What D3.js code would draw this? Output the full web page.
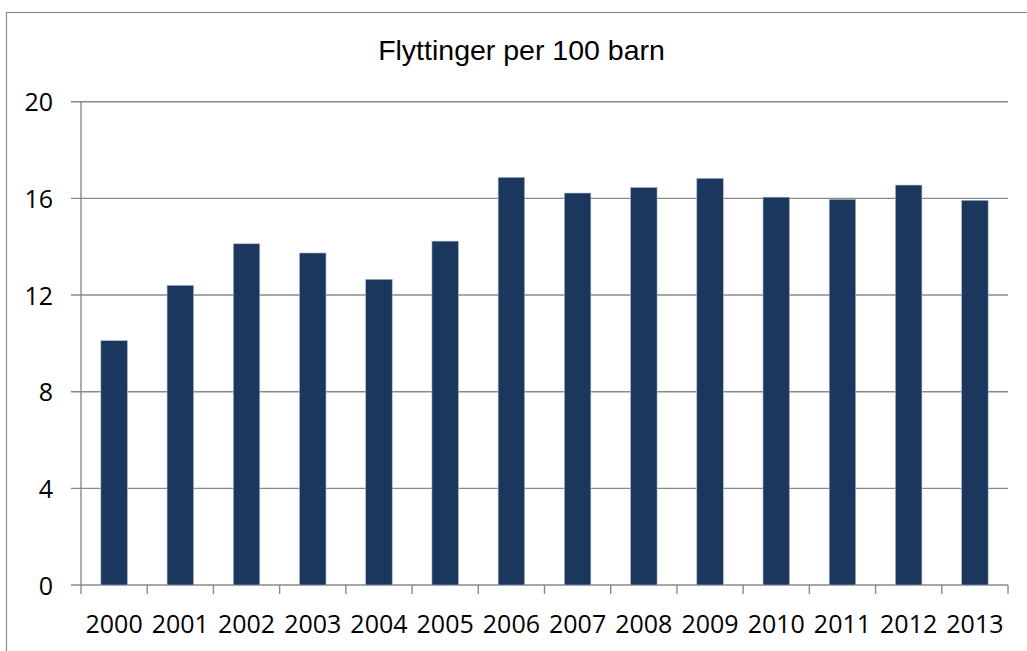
<!DOCTYPE html>
<html><head><meta charset="utf-8">
<script src="https://cdn.jsdelivr.net/npm/d3@7"></script>
<style>body{margin:0;background:#fff}svg{display:block}</style>
</head><body>
<svg id="c" width="1027" height="651"></svg>
<script>
const title = "Flyttinger per 100 barn";
const years = ["2000","2001","2002","2003","2004","2005","2006","2007","2008","2009","2010","2011","2012","2013"];
const values = [10.11,12.40,14.12,13.74,12.65,14.23,16.87,16.22,16.45,16.83,16.05,15.96,16.55,15.92];
const yTicks = [0,4,8,12,16,20];

const svg = d3.select("#c");
const font = "'Open Sans', 'Noto Sans', sans-serif";
const tfont = "'Liberation Sans', Arial, sans-serif";
svg.append("rect").attr("x",6.5).attr("y",12.5).attr("width",1030).attr("height",660)
  .attr("fill","#fff").attr("stroke","#8a8a8a").attr("stroke-width",1.2);

const L=81, R=1008, T=101.7, B=585;
const x = d3.scaleBand().domain(years).range([L,R]).paddingInner(0.6).paddingOuter(0.3);
const y = d3.scaleLinear().domain([0,20]).range([B,T]);

// gridlines
svg.append("g").selectAll("line").data(yTicks).join("line")
  .attr("x1",71).attr("x2",R).attr("y1",d=>y(d)).attr("y2",d=>y(d))
  .attr("stroke","#8a8a8a").attr("stroke-width",1.4);
// y axis line
svg.append("line").attr("x1",L).attr("x2",L).attr("y1",T).attr("y2",B)
  .attr("stroke","#8a8a8a").attr("stroke-width",1.4);
// category ticks
const xb = d3.scaleBand().domain(years).range([L,R]);
const tickPos = years.map(d=>xb(d)).concat([R]);
svg.append("g").selectAll("line").data(tickPos).join("line")
  .attr("x1",d=>d).attr("x2",d=>d).attr("y1",B).attr("y2",594)
  .attr("stroke","#8a8a8a").attr("stroke-width",1.4);

// bars
svg.append("g").selectAll("rect").data(values).join("rect")
  .attr("x",(d,i)=>x(years[i])).attr("width",x.bandwidth())
  .attr("y",d=>y(d)).attr("height",d=>B-y(d))
  .attr("fill","#1b375e").attr("stroke","#a9b8cc").attr("stroke-width",0.6);

// y labels
svg.append("g").selectAll("text").data(yTicks).join("text")
  .attr("x",53).attr("y",d=>y(d)+9.5).attr("text-anchor","end")
  .attr("font-family",font).attr("font-size",25).attr("fill","#000").text(d=>d);
// x labels
svg.append("g").selectAll("text").data(years).join("text")
  .attr("x",d=>xb(d)+xb.bandwidth()/2).attr("y",633.3).attr("text-anchor","middle")
  .attr("font-family",font).attr("font-size",25).attr("fill","#000").text(d=>d);
// title
svg.append("text").attr("x",521.5).attr("y",60).attr("text-anchor","middle")
  .attr("font-family",tfont).attr("font-size",28.5).attr("fill","#000").text(title);
</script>
</body></html>
